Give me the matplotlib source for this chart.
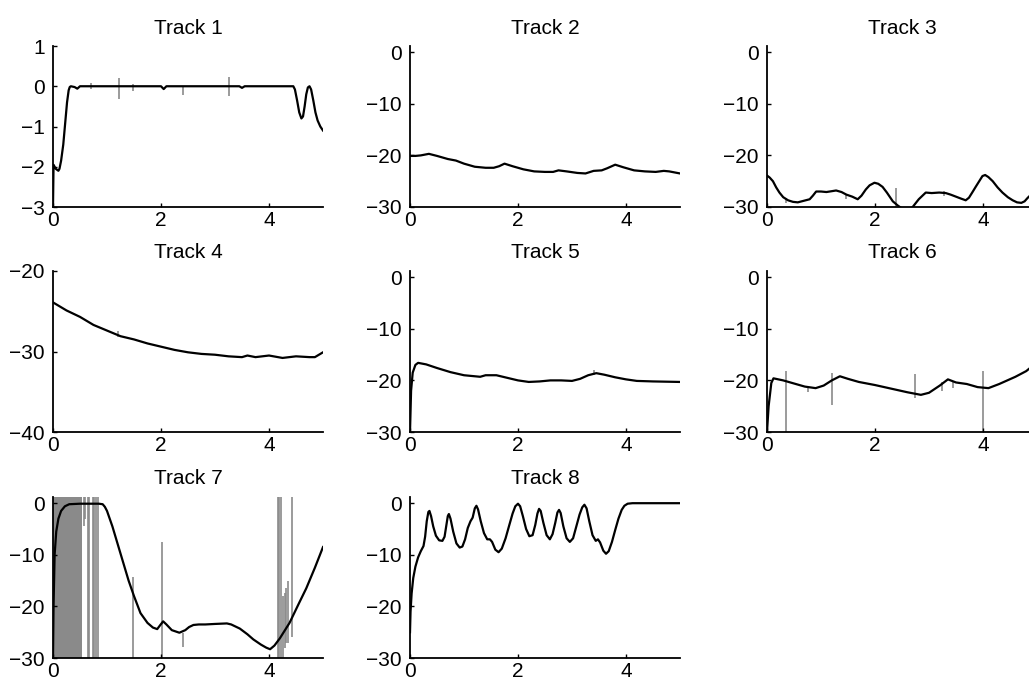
import matplotlib

matplotlib.use("Agg")
import matplotlib.pyplot as plt

plt.rcParams["font.family"] = ["Liberation Sans", "DejaVu Sans"]

# ---- curves -----------------------------------------------------------------
T1_X = [0, 0.01, 0.05, 0.1, 0.12, 0.15, 0.19, 0.22, 0.26, 0.29, 0.31, 0.33, 0.4, 0.45,
        0.5, 2.0, 2.05, 2.1, 3.45, 3.5, 3.55, 4.45, 4.48, 4.52, 4.56, 4.6, 4.63, 4.66,
        4.69, 4.72, 4.75, 4.78, 4.82, 4.86, 4.9, 4.95, 5.0]
T1_Y = [-3.0, -1.95, -2.05, -2.1, -2.05, -1.85, -1.45, -1.0, -0.4, -0.1, -0.02, 0,
        -0.02, -0.06, 0, 0, -0.07, 0, 0, -0.04, 0, 0, -0.08, -0.35, -0.65, -0.8, -0.75,
        -0.5, -0.2, -0.03, 0, -0.08, -0.35, -0.65, -0.85, -1.0, -1.1]
T1_SPK = [0.71, 1.22, 1.48, 2.4, 3.25]
T1_TOP = [0.07, 0.2, 0.05, 0.0, 0.23]
T1_BOT = [-0.08, -0.32, -0.12, -0.22, -0.24]

T2_X = [0, 0.1, 0.2, 0.35, 0.5, 0.7, 0.85, 1.0, 1.2, 1.4, 1.55, 1.65, 1.75, 1.9, 2.1,
        2.3, 2.5, 2.65, 2.75, 2.9, 3.1, 3.25, 3.4, 3.55, 3.65, 3.8, 3.95, 4.15, 4.35,
        4.55, 4.7, 4.8, 5.0]
T2_Y = [-20.1, -20.1, -20.0, -19.7, -20.1, -20.7, -21.0, -21.6, -22.2, -22.4, -22.4,
        -22.1, -21.6, -22.1, -22.7, -23.1, -23.2, -23.2, -22.9, -23.1, -23.4, -23.5,
        -23.0, -22.9, -22.5, -21.8, -22.3, -22.9, -23.1, -23.2, -23.0, -23.1, -23.5]

T3_X = [0, 0.05, 0.11, 0.17, 0.23, 0.3, 0.39, 0.48, 0.57, 0.68, 0.79, 0.85, 0.91, 1.0,
        1.1, 1.16, 1.28, 1.38, 1.47, 1.58, 1.68, 1.75, 1.83, 1.9, 1.99, 2.06, 2.14, 2.22,
        2.33, 2.42, 2.5, 2.6, 2.69, 2.75, 2.81, 2.88, 2.94, 3.05, 3.19, 3.31, 3.4, 3.5,
        3.6, 3.68, 3.74, 3.8, 3.87, 3.93, 3.99, 4.04, 4.1, 4.18, 4.27, 4.36, 4.46, 4.55,
        4.63, 4.71, 4.77, 4.83, 4.9, 5.0]
T3_Y = [-23.9, -24.3, -25.0, -26.2, -27.2, -28.1, -28.7, -29.0, -29.1, -28.8, -28.5,
        -27.8, -27.0, -27.0, -27.1, -27.0, -26.8, -27.1, -27.6, -28.0, -28.5, -27.8,
        -26.6, -25.8, -25.3, -25.5, -26.1, -27.2, -28.9, -29.7, -30.3, -30.5, -30.1,
        -29.3, -28.5, -27.8, -27.2, -27.3, -27.2, -27.3, -27.6, -28.0, -28.4, -28.7,
        -28.2, -27.2, -26.0, -25.0, -24.0, -23.8, -24.2, -25.0, -26.2, -27.2, -28.1,
        -28.7, -29.1, -29.2, -28.9, -28.2, -27.5, -26.5]
T3_SPK = [0.36, 1.47, 2.39, 3.28]
T3_TOP = [-28.3, -27.6, -26.4, -26.9]
T3_BOT = [-29.2, -28.5, -30.0, -27.8]

T4_X = [0, 0.25, 0.5, 0.75, 1.0, 1.25, 1.5, 1.75, 2.0, 2.25, 2.5, 2.75, 3.0, 3.25, 3.5,
        3.6, 3.75, 4.0, 4.25, 4.5, 4.75, 4.85, 5.0]
T4_Y = [-23.9, -24.9, -25.7, -26.7, -27.4, -28.1, -28.5, -29.0, -29.4, -29.8, -30.1,
        -30.3, -30.4, -30.6, -30.7, -30.5, -30.7, -30.5, -30.8, -30.6, -30.7, -30.7, -30.1]
T4_SPK = [1.2]
T4_TOP = [-27.5]
T4_BOT = [-28.2]

T5_X = [0, 0.02, 0.05, 0.1, 0.15, 0.3, 0.5, 0.75, 1.0, 1.3, 1.4, 1.6, 1.8, 2.0, 2.2,
        2.4, 2.6, 2.8, 3.0, 3.15, 3.3, 3.45, 3.6, 3.8, 4.0, 4.2, 4.5, 5.0]
T5_Y = [-30, -22, -18.5, -17.0, -16.6, -16.9, -17.6, -18.4, -19.0, -19.3, -19.0, -19.0,
        -19.5, -20.0, -20.3, -20.2, -20.0, -20.0, -20.1, -19.7, -19.0, -18.6, -18.9,
        -19.4, -19.8, -20.1, -20.2, -20.3]
T5_SPK = [3.4]
T5_TOP = [-18.0]
T5_BOT = [-18.9]

T6_X = [0, 0.03, 0.08, 0.12, 0.3, 0.5, 0.7, 0.9, 1.05, 1.2, 1.35, 1.5, 1.7, 2.0, 2.3,
        2.6, 2.85, 3.0, 3.2, 3.35, 3.5, 3.7, 3.9, 4.1, 4.3, 4.6, 4.8, 5.0]
T6_Y = [-30, -25, -20.5, -19.6, -20.0, -20.6, -21.2, -21.5, -21.0, -20.0, -19.2, -19.7,
        -20.3, -20.9, -21.6, -22.3, -22.8, -22.4, -21.0, -19.8, -20.4, -20.7, -21.3,
        -21.5, -20.7, -19.3, -18.2, -16.5]
T6_SPK = [0.35, 0.75, 1.2, 2.75, 3.25, 3.45, 4.0]
T6_TOP = [-18.1, -21.3, -18.5, -18.8, -20.3, -20.2, -18.2]
T6_BOT = [-30.0, -22.3, -24.8, -23.5, -22.0, -21.5, -30.0]

T7_X = [0, 0.01, 0.03, 0.06, 0.1, 0.15, 0.22, 0.3, 0.5, 0.7, 0.85, 0.92, 0.96, 1.0, 1.1,
        1.2, 1.3, 1.4, 1.5, 1.62, 1.75, 1.85, 1.93, 1.98, 2.04, 2.1, 2.2, 2.34, 2.45,
        2.52, 2.6, 2.7, 2.82, 3.0, 3.22, 3.3, 3.38, 3.46, 3.6, 3.71, 3.85, 3.95, 4.02,
        4.1, 4.2, 4.38, 4.55, 4.69, 4.85, 5.0]
T7_Y = [-30, -20, -10, -5.5, -3.0, -1.5, -0.6, -0.2, -0.1, -0.1, -0.1, -0.2, -0.7,
        -1.5, -4.5, -8.0, -11.5, -15.0, -18.0, -21.3, -23.2, -24.1, -24.4, -23.7, -22.9,
        -23.5, -24.6, -25.1, -24.6, -24.0, -23.6, -23.5, -23.5, -23.4, -23.3, -23.5,
        -23.9, -24.3, -25.4, -26.4, -27.4, -28.0, -28.3, -27.6, -26.2, -23.2, -19.5,
        -16.5, -12.5, -8.5]
T7_BAND = [0.0, 0.535]
T7_SPK = [0.57, 0.59, 0.655, 0.675, 0.74, 0.765, 0.80, 0.83, 1.48, 2.02, 2.40,
          4.16, 4.19, 4.22, 4.26, 4.29, 4.32, 4.36, 4.43]
T7_TOP = [1.2, 1.2, 1.2, 1.2, 1.2, 1.2, 1.2, 1.2, -14.3, -7.5, -25.2,
          1.2, 1.2, 1.2, -18.0, -17.5, -16.5, -15.0, 1.2]
T7_BOT = [-4.5, -3.0, -30, -30, -30, -30, -30, -30, -30, -30, -27.8,
          -30, -30, -30, -30, -28, -27, -27, -26]

T8_X = [0, 0.01, 0.03, 0.06, 0.1, 0.15, 0.2, 0.25, 0.28, 0.31, 0.34, 0.36, 0.39, 0.43,
        0.48, 0.54, 0.6, 0.64, 0.67, 0.7, 0.72, 0.75, 0.8, 0.86, 0.92, 0.97, 1.02, 1.07,
        1.12, 1.16, 1.2, 1.23, 1.26, 1.31, 1.37, 1.43, 1.48, 1.52, 1.58, 1.64, 1.7, 1.77,
        1.84, 1.9, 1.95, 2.0, 2.04, 2.09, 2.15, 2.21, 2.27, 2.32, 2.36, 2.39, 2.42, 2.47,
        2.53, 2.59, 2.64, 2.69, 2.73, 2.76, 2.79, 2.84, 2.9, 2.96, 3.02, 3.08, 3.14,
        3.19, 3.23, 3.27, 3.32, 3.38, 3.44, 3.48, 3.52, 3.58, 3.63, 3.68, 3.74, 3.8,
        3.86, 3.92, 3.97, 4.03, 4.12, 5.0]
T8_Y = [-25, -21, -17.5, -14.5, -12.3, -10.5, -9.3, -8.3, -6.5, -3.5, -1.7, -1.5, -2.5,
        -4.5, -6.3, -7.2, -7.3, -6.5, -4.5, -2.5, -2.1, -3.0, -5.5, -7.8, -8.6, -8.4,
        -7.0, -4.8, -3.5, -2.8, -1.0, -0.5, -1.2, -3.5, -5.8, -7.0, -7.0, -7.5, -9.0,
        -9.5, -8.8, -6.8, -4.2, -2.0, -0.6, -0.1, -0.6, -2.5, -5.0, -6.4, -6.2, -4.2,
        -2.0, -1.1, -1.5, -3.8, -6.2, -7.0, -6.0, -3.8, -1.8, -1.3, -1.9, -4.5, -6.8,
        -7.5, -6.8, -4.5, -2.2, -0.8, -0.3, -1.0, -3.5, -6.2, -7.3, -7.0, -7.6, -9.2,
        -9.8, -9.3, -7.5, -5.2, -3.0, -1.3, -0.5, -0.1, 0, 0]

TRACKS = [
    ("Track 1", T1_X, T1_Y, T1_SPK, T1_TOP, T1_BOT, (-3, 1), [-3, -2, -1, 0, 1]),
    ("Track 2", T2_X, T2_Y, [], [], [], (-30, 1.2), [-30, -20, -10, 0]),
    ("Track 3", T3_X, T3_Y, T3_SPK, T3_TOP, T3_BOT, (-30, 1.2), [-30, -20, -10, 0]),
    ("Track 4", T4_X, T4_Y, T4_SPK, T4_TOP, T4_BOT, (-40, -20), [-40, -30, -20]),
    ("Track 5", T5_X, T5_Y, T5_SPK, T5_TOP, T5_BOT, (-30, 1.2), [-30, -20, -10, 0]),
    ("Track 6", T6_X, T6_Y, T6_SPK, T6_TOP, T6_BOT, (-30, 1.2), [-30, -20, -10, 0]),
    ("Track 7", T7_X, T7_Y, T7_SPK, T7_TOP, T7_BOT, (-30, 1.2), [-30, -20, -10, 0]),
    ("Track 8", T8_X, T8_Y, [], [], [], (-30, 1.2), [-30, -20, -10, 0]),
]

W, H = 1029, 685
COL_LEFT = [53, 410, 767]
ROW_BOTTOM = [207, 432, 658]
AX_W, AX_H = 270, 161
SPIKE = "#8a8a8a"

fig = plt.figure(figsize=(W / 100, H / 100), dpi=100)

for i, (title, xs, ys, sx, stop, sbot, ylim, yt) in enumerate(TRACKS):
    r, c = divmod(i, 3)
    ax = fig.add_axes([COL_LEFT[c] / W, 1 - ROW_BOTTOM[r] / H, AX_W / W, AX_H / H])
    if title == "Track 7":
        ax.fill_between(T7_BAND, ylim[0], ylim[1], color=SPIKE, lw=0, zorder=1)
    if sx:
        ax.vlines(sx, sbot, stop, color=SPIKE, lw=1.2, zorder=1)
    ax.plot(xs, ys, color="black", lw=1.6, zorder=3)
    ax.set_xlim(0, 5)
    ax.set_ylim(*ylim)
    ax.set_xticks([0, 2, 4])
    ax.set_yticks(yt)
    for s in ("top", "right"):
        ax.spines[s].set_visible(False)
    for s in ("left", "bottom"):
        ax.spines[s].set_linewidth(1.3)
        ax.spines[s].set_zorder(4)
    ax.tick_params(direction="in", length=3, width=1, labelsize=15)
    ax.tick_params(axis="x", pad=3)
    ax.tick_params(axis="y", pad=6)
    ax.set_title(title, fontsize=15, pad=9)

fig.savefig("out.png", dpi=100, facecolor="white")
